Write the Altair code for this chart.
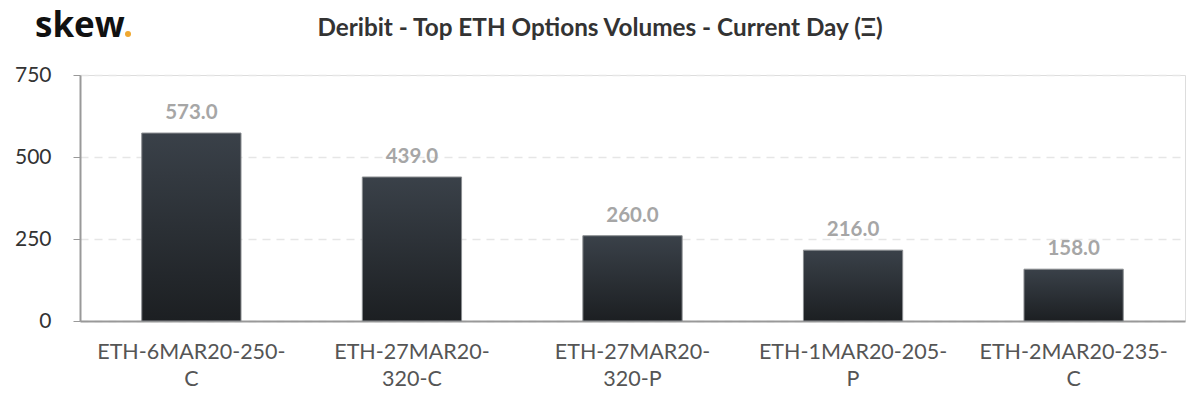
import altair as alt
import pandas as pd

categories = ["ETH-6MAR20-250-C", "ETH-27MAR20-320-C", "ETH-27MAR20-320-P", "ETH-1MAR20-205-P", "ETH-2MAR20-235-C"]
label_line1 = ["ETH-6MAR20-250-", "ETH-27MAR20-", "ETH-27MAR20-", "ETH-1MAR20-205-", "ETH-2MAR20-235-"]
label_line2 = ["C", "320-C", "320-P", "P", "C"]
volumes = [573.0, 439.0, 260.0, 216.0, 158.0]
y_ticks = [0, 250, 500, 750]
title_text = "Deribit - Top ETH Options Volumes - Current Day (Ξ)"

df = pd.DataFrame({"option": categories, "volume": volumes})

label_map = "{" + ",".join(
    f"'{c}': ['{a}', '{b}']" for c, a, b in zip(categories, label_line1, label_line2)
) + "}"

W, H = 1105, 246
FONT = "Lato"

x_enc = alt.X("option:N", sort=categories,
              scale=alt.Scale(paddingInner=0.55, paddingOuter=0.28),
              axis=alt.Axis(title=None, labelAngle=0, labelFont=FONT, labelFontSize=21.5,
                            labelColor="#555555", labelPadding=20, labelLineHeight=27,
                            labelLimit=400,
                            labelExpr=f"{label_map}[datum.value]",
                            domainColor="#999999", domainWidth=2, ticks=False, grid=False))
y_enc = alt.Y("volume:Q", scale=alt.Scale(domain=[0, 750], nice=False),
              axis=alt.Axis(title=None, values=y_ticks, labelFont=FONT, labelFontSize=21,
                            labelColor="#333333", labelPadding=22, tickSize=7,
                            tickColor="#999999", domainColor="#999999", domainWidth=2,
                            grid=True, gridColor="#e6e6e6", gridDash=[8, 6], gridWidth=1.5))

grad = alt.Gradient(gradient="linear",
                    stops=[alt.GradientStop(color="#1c1f22", offset=0),
                           alt.GradientStop(color="#3a4149", offset=1)],
                    x1=0, x2=0, y1=1, y2=0)

bars = alt.Chart(df).mark_bar(color=grad, stroke="#8a8d90", strokeWidth=1).encode(x=x_enc, y=y_enc)

vals = alt.Chart(df).mark_text(font=FONT, fontSize=20.5, fontWeight="bold", color="#a6a6a6",
                               dy=-20, baseline="middle").encode(
    x=alt.X("option:N", sort=categories), y="volume:Q", text=alt.Text("volume:Q", format=".1f"))

title = alt.Chart(pd.DataFrame({"t": [title_text]})).mark_text(
    font=FONT, fontSize=24.3, fontWeight="bold", color="#333333", align="center", baseline="middle"
).encode(x=alt.value(520), y=alt.value(-46), text="t:N")

logo = alt.Chart(pd.DataFrame({"t": ["skew"]})).mark_text(
    font="Open Sans", fontSize=35, fontWeight="bold", color="#111111", align="left", baseline="alphabetic"
).encode(x=alt.value(-45), y=alt.value(-38), text="t:N")

dot = alt.Chart(pd.DataFrame({"t": [1]})).mark_point(
    shape="circle", filled=True, size=36, color="#f0a830", opacity=1
).encode(x=alt.value(48), y=alt.value(-41))

chart = alt.layer(bars, vals, title, logo, dot).properties(
    width=W, height=H,
    autosize=alt.AutoSizeParams(type="none"),
    padding={"left": 72, "top": 67, "right": 7, "bottom": 70},
).configure_view(stroke=None).configure(background="white")

chart.save("out.html", embed_options={"renderer": "svg", "actions": False})
